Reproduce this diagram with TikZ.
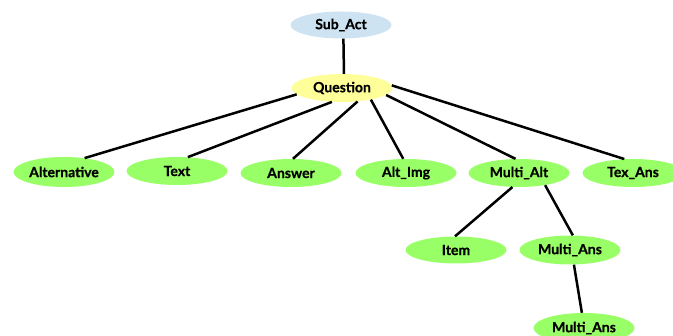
\documentclass[tikz,border=0pt]{standalone}
\usepackage{fontspec}
\setmainfont{Lato}
\usetikzlibrary{shapes.geometric}
\definecolor{leafgreen}{RGB}{153,255,102}
\definecolor{rootblue}{RGB}{206,227,242}
\definecolor{qyellow}{RGB}{255,255,153}
\begin{document}
\begin{tikzpicture}[x=1pt,y=-1pt,
  elem/.style={ellipse, draw=none, inner sep=0pt, minimum width=101pt, minimum height=28pt,
    font=\fontsize{14}{16}\selectfont\bfseries\addfontfeature{FakeBold=0.6}},
  leaf/.style={elem, fill=leafgreen},
  link/.style={line width=2.5pt, black}]
\useasboundingbox (0,0) rectangle (673,336);
\clip (0,0) rectangle (673,336);

% nodes
\node[elem, fill=rootblue, minimum height=27pt] (sub) at (341,25) {Sub\_Act};
\node[elem, fill=qyellow] (q) at (342,88) {Question};
\node[leaf, minimum height=30pt] (alt) at (64,172) {Alternative};
\node[leaf] (txt) at (177,171) {Text};
\node[leaf] (ans) at (291,173) {Answer};
\node[leaf] (img) at (406,173) {Alt\_Img};
\node[leaf] (malt) at (519,173) {Multi\_Alt};
\node[leaf] (tex) at (633,173) {Tex\_Ans};
\node[leaf, minimum height=27pt] (item) at (456,250) {Item};
\node[leaf, minimum height=29pt] (mans) at (570,250) {Multi\_Ans};
\node[leaf, minimum height=30pt] (mans2) at (584,328) {Multi\_Ans};

% connectors
\draw[link] (sub.280) -- (q.82);
\draw[link] (q.188) -- (alt.34);
\draw[link] (q.234) -- (txt.52);
\draw[link] (q.319) -- (ans.82);
\draw[link] (q.338) -- (img.101);
\draw[link] (q.351) -- (malt.104);
\draw[link] (q.3) -- (tex.122);
\draw[link] (malt.245) -- (item.94);
\draw[link] (malt.335) -- (mans.79);
\draw[link] (mans.285) -- (mans2.98);
\end{tikzpicture}
\end{document}
